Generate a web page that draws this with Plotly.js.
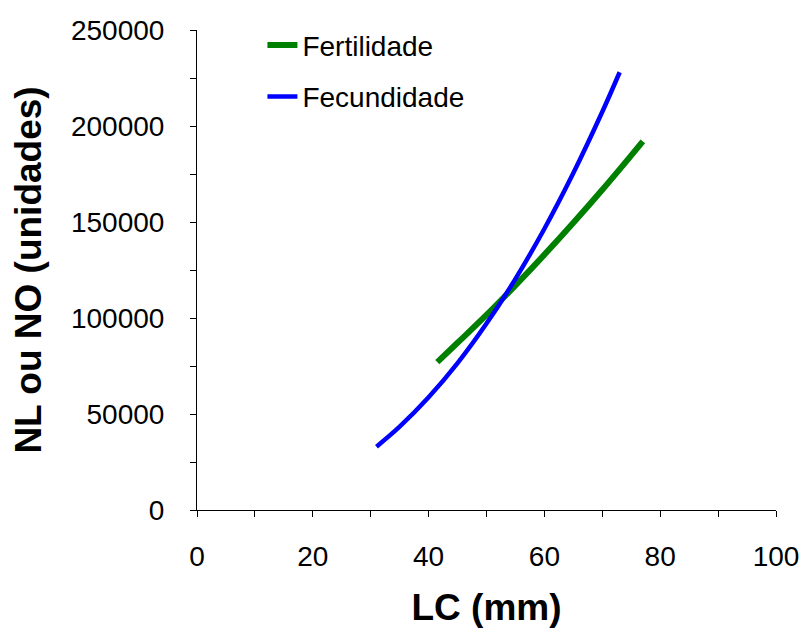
<!DOCTYPE html>
<html>
<head>
<meta charset="utf-8">
<script src="https://cdn.plot.ly/plotly-3.0.1.min.js"></script>
<style>html,body{margin:0;padding:0;background:#fff;}#chart{width:808px;height:635px;}</style>
</head>
<body>
<div id="chart"></div>
<script>
// Fertilidade (green)
var fertLC = [41.5, 45, 50, 55, 60, 65, 70, 75, 77];
var fertN  = [77000, 87100, 101600, 117000, 133000, 149600, 166800, 184700, 192000];
// Fecundidade (blue)
var fecLC = [31, 35, 40, 45, 50, 55, 60, 65, 70, 73];
var fecN  = [33000, 43400, 58700, 76500, 97100, 120400, 146500, 175500, 207400, 228000];

var seriesNames = ['Fertilidade', 'Fecundidade'];
var xTitle = 'LC (mm)';
var yTitle = 'NL ou NO (unidades)';

var traces = [
  {x: fertLC, y: fertN, name: seriesNames[0], mode: 'lines', legendgroup: 'a',
   line: {color: '#008000', width: 6, shape: 'spline'}},
  {x: fecLC, y: fecN, name: seriesNames[1], mode: 'lines', legendgroup: 'b',
   line: {color: '#0000FF', width: 4.5, shape: 'spline'}}
];

var layout = {
  width: 808, height: 635,
  margin: {l: 197, r: 32, t: 30, b: 125},
  paper_bgcolor: '#fff', plot_bgcolor: '#fff',
  font: {family: 'Liberation Sans, Arial, sans-serif', size: 28, color: '#000'},
  showlegend: true,
  legend: {x: 0.113, y: 1.02, xanchor: 'left', yanchor: 'top', bgcolor: 'rgba(0,0,0,0)',
           font: {size: 28, color: '#000'}, tracegroupgap: 12},
  xaxis: {
    range: [0, 100], dtick: 20, tick0: 0, ticks: 'outside', ticklen: 6, tickcolor: '#000',
    showline: true, linecolor: '#000', linewidth: 1, showgrid: false, zeroline: false,
    minor: {dtick: 10, ticks: 'outside', ticklen: 6, tickcolor: '#000', showgrid: false},
    tickfont: {size: 28}, ticklabelstandoff: 15, tickformat: 'd',
    title: {text: '<b>' + xTitle + '</b>', font: {size: 37}, standoff: 23},
    automargin: false, fixedrange: true
  },
  yaxis: {
    range: [0, 250000], dtick: 50000, tick0: 0, ticks: 'outside', ticklen: 6, tickcolor: '#000',
    showline: true, linecolor: '#000', linewidth: 1, showgrid: false, zeroline: false,
    minor: {dtick: 25000, ticks: 'outside', ticklen: 6, tickcolor: '#000', showgrid: false},
    tickfont: {size: 28}, ticklabelstandoff: 20, tickformat: 'd',
    title: {text: '<b>' + yTitle + '</b>', font: {size: 37}, standoff: 18},
    automargin: false, fixedrange: true
  }
};

Plotly.newPlot('chart', traces, layout, {staticPlot: true, displayModeBar: false});
</script>
</body>
</html>
